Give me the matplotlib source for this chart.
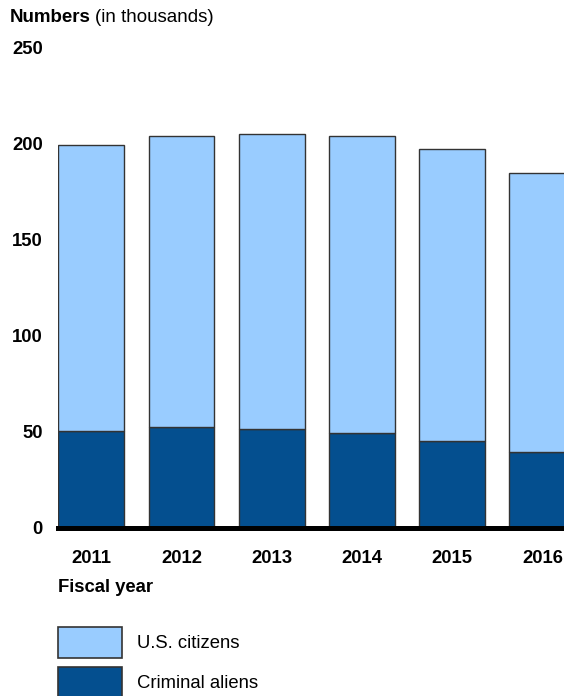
import matplotlib.pyplot as plt
from matplotlib.patches import Rectangle

plt.rcParams['font.family'] = ['Liberation Sans', 'DejaVu Sans']

years = ['2011', '2012', '2013', '2014', '2015', '2016']
criminal_aliens = [50.6, 52.6, 51.7, 49.6, 45.3, 39.7]
totals = [199.6, 204.3, 205.0, 204.0, 197.5, 184.7]
us_citizens = [t - c for t, c in zip(totals, criminal_aliens)]

light = '#99ccff'
dark = '#044f8f'
edge = '#333333'
fs = 13.3

fig = plt.figure(figsize=(5.64, 6.96), dpi=100)
ax = fig.add_axes([58 / 564, (696 - 528) / 696, 1 - 58 / 564, (528 - 48) / 696])

x = range(len(years))
ax.bar(x, criminal_aliens, width=0.73, color=dark, edgecolor=edge, linewidth=1)
ax.bar(x, us_citizens, width=0.73, bottom=criminal_aliens, color=light,
       edgecolor=edge, linewidth=1)
ax.axhline(0, color='black', linewidth=3.6, clip_on=False, zorder=5)

ax.set_xlim(-0.37, 5.24)
ax.set_ylim(0, 250)
ax.set_yticks([0, 50, 100, 150, 200, 250])
ax.set_xticks(list(x))
ax.set_xticklabels(years)
ax.tick_params(length=0, labelsize=fs)
ax.tick_params(axis='y', pad=11)
ax.tick_params(axis='x', pad=16)
for lbl in ax.get_xticklabels() + ax.get_yticklabels():
    lbl.set_fontweight('bold')
for s in ax.spines.values():
    s.set_visible(False)

# titles
fig.text(10 / 564, 1 - 18 / 696, 'Numbers', fontsize=13.5, fontweight='bold',
         va='center', ha='left')
fig.text(95 / 564, 1 - 18 / 696, '(in thousands)', fontsize=13.5,
         va='center', ha='left')
fig.text(58 / 564, 1 - 588 / 696, 'Fiscal year', fontsize=fs, fontweight='bold',
         va='center', ha='left')

# legend
labels = ['U.S. citizens', 'Criminal aliens']
colors = [light, dark]
tops = [627, 667]
for lab, col, top in zip(labels, colors, tops):
    fig.patches.append(Rectangle((58 / 564, 1 - (top + 31) / 696), 64 / 564, 31 / 696,
                                 transform=fig.transFigure, facecolor=col,
                                 edgecolor=edge, linewidth=1.2))
    fig.text(137 / 564, 1 - (top + 17) / 696, lab, fontsize=fs,
             va='center', ha='left')

fig.savefig('out.png', dpi=100)
